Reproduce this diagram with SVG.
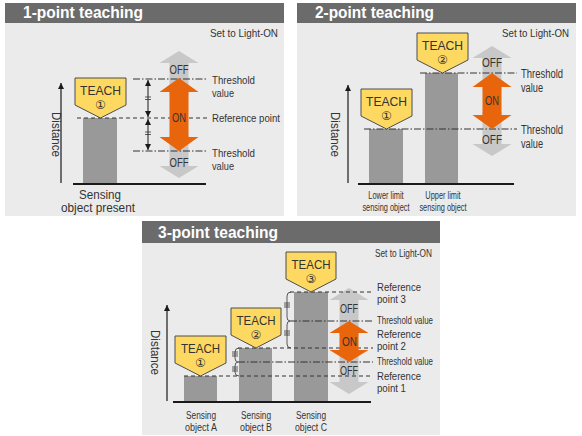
<svg xmlns="http://www.w3.org/2000/svg" width="582" height="436" viewBox="0 0 582 436">
<style>
.hdr{fill:#6b6b6b}
.pbg{fill:#ebebeb}
.bar{fill:#999999}
.teach{fill:#fdd962;stroke:#4d4d4d;stroke-width:1}
.orange{fill:#e8650c}
.grey{fill:#c8c8c8}
.ttl{font-family:"Liberation Sans",Arial,sans-serif;font-weight:bold;font-size:17px;fill:#ffffff}
.t{font-family:"Liberation Sans Narrow","Liberation Sans",Arial,sans-serif;fill:#333333}
.tc{font-family:"Liberation Sans Narrow","Liberation Sans",Arial,sans-serif;fill:#333333;text-anchor:middle}
.tt{font-family:"Liberation Sans Narrow","Liberation Sans",Arial,sans-serif;fill:#333333;text-anchor:middle;font-size:13px}
.num{font-family:"DejaVu Sans","Noto Sans CJK JP",sans-serif;fill:#333333;text-anchor:middle;font-size:12px}
.dash{stroke:#333333;stroke-width:1;stroke-dasharray:4 3;fill:none}
.dd{stroke:#333333;stroke-width:1;stroke-dasharray:7 2 1.5 2;fill:none}
.base{stroke:#1a1a1a;stroke-width:2}
.axis{stroke:#1a1a1a;stroke-width:1.2;marker-end:url(#ax)}
.dim{stroke:#1a1a1a;stroke-width:1;marker-start:url(#dm);marker-end:url(#dm)}
.thin{stroke:#333333;stroke-width:0.8;fill:none}
</style>
<defs>
<marker id="ax" viewBox="0 0 10 10" refX="10" refY="5" markerWidth="6" markerHeight="8" markerUnits="userSpaceOnUse" orient="auto"><path d="M0,0 L10,5 L0,10 Z" fill="#1a1a1a"/></marker>
<marker id="dm" viewBox="0 0 10 10" refX="10" refY="5" markerWidth="8" markerHeight="6" markerUnits="userSpaceOnUse" orient="auto-start-reverse"><path d="M0,0 L10,5 L0,10 Z" fill="#1a1a1a"/></marker>
</defs>
<rect width="582" height="436" fill="#ffffff"/>

<!-- Panel 1 -->
<g id="panel1">
<rect class="pbg" x="5" y="3" width="279" height="213"/>
<rect class="hdr" x="5" y="3" width="279" height="20"/>
<text class="ttl" x="23" y="18" textLength="120" lengthAdjust="spacingAndGlyphs">1-point teaching</text>
<text class="t" x="210" y="37" font-size="11" textLength="68" lengthAdjust="spacingAndGlyphs">Set to Light-ON</text>
</g>
<g id="p1-axis">
<line class="axis" x1="61" y1="183" x2="61" y2="83"/>
<text class="tc" font-size="12" transform="translate(52,134.5) rotate(90)" textLength="45" lengthAdjust="spacingAndGlyphs">Distance</text>
</g>
<g id="p1-bar"><rect class="bar" x="83" y="118" width="34" height="66"/></g>
<g id="p1-arrows">
<path class="grey" d="M179,51 L198.5,63 L188.5,63 L188.5,95 L169.5,95 L169.5,63 L159.5,63 Z"/>
<path class="grey" d="M169.5,135 L188.5,135 L188.5,166 L198.5,166 L179,178 L159.5,166 L169.5,166 Z"/>
</g>
<g id="p1-lines">
<line class="dash" x1="77" y1="118" x2="208" y2="118"/>
<line class="dd" x1="133" y1="79" x2="208" y2="79"/>
<line class="dd" x1="133" y1="151" x2="208" y2="151"/>
<line class="dim" x1="148" y1="80" x2="148" y2="117"/>
<line class="dim" x1="148" y1="119" x2="148" y2="150"/>
<path class="thin" d="M145,97 H151 M145,99.5 H151 M145,132 H151 M145,134.5 H151"/>
<line class="base" x1="73" y1="184" x2="206" y2="184"/>
</g>
<g id="p1-on">
<path class="orange" d="M179,78 L198.5,92 L188.5,92 L188.5,137 L198.5,137 L179,151 L159.5,137 L169.5,137 L169.5,92 L159.5,92 Z"/>
<text class="tc" x="179" y="74" font-size="12" textLength="19" lengthAdjust="spacingAndGlyphs">OFF</text>
<text class="tc" x="179" y="122" font-size="12" textLength="14" lengthAdjust="spacingAndGlyphs">ON</text>
<text class="tc" x="179" y="167" font-size="12" textLength="19" lengthAdjust="spacingAndGlyphs">OFF</text>
</g>
<g id="p1-teach">
<path class="teach" d="M75,78 H126 V105 L100.5,118 L75,105 Z"/>
<text class="tt" x="100.5" y="94.5" textLength="41" lengthAdjust="spacingAndGlyphs">TEACH</text>
<text class="num" x="100.5" y="108.5">①</text>
</g>
<g id="p1-labels">
<text class="t" x="212" y="83.5" font-size="11.5" textLength="43" lengthAdjust="spacingAndGlyphs">Threshold</text>
<text class="t" x="212" y="97" font-size="11.5" textLength="22" lengthAdjust="spacingAndGlyphs">value</text>
<text class="t" x="212" y="122" font-size="11.5" textLength="68" lengthAdjust="spacingAndGlyphs">Reference point</text>
<text class="t" x="212" y="156.5" font-size="11.5" textLength="43" lengthAdjust="spacingAndGlyphs">Threshold</text>
<text class="t" x="212" y="170" font-size="11.5" textLength="22" lengthAdjust="spacingAndGlyphs">value</text>
<text class="tc" x="100" y="198.5" font-size="12" textLength="42" lengthAdjust="spacingAndGlyphs">Sensing</text>
<text class="tc" x="98" y="212" font-size="12" textLength="74" lengthAdjust="spacingAndGlyphs">object present</text>
</g>

<!-- Panel 2 -->
<g id="panel2">
<rect class="pbg" x="297" y="3" width="279" height="213"/>
<rect class="hdr" x="297" y="3" width="279" height="20"/>
<text class="ttl" x="315" y="18" textLength="119" lengthAdjust="spacingAndGlyphs">2-point teaching</text>
<text class="t" x="502" y="37" font-size="11" textLength="67" lengthAdjust="spacingAndGlyphs">Set to Light-ON</text>
</g>
<g id="p2-axis">
<line class="axis" x1="348" y1="183" x2="348" y2="85"/>
<text class="tc" font-size="12" transform="translate(331,134.5) rotate(90)" textLength="45" lengthAdjust="spacingAndGlyphs">Distance</text>
</g>
<g id="p2-bars">
<rect class="bar" x="369" y="129" width="34" height="55"/>
<rect class="bar" x="425" y="73" width="33" height="111"/>
</g>
<g id="p2-arrows">
<path class="grey" d="M492,46 L511.5,58 L501.5,58 L501.5,90 L482.5,90 L482.5,58 L472.5,58 Z"/>
<path class="grey" d="M482.5,112 L501.5,112 L501.5,144 L511.5,144 L492,156 L472.5,144 L482.5,144 Z"/>
</g>
<g id="p2-lines">
<line class="dd" x1="420" y1="73" x2="517" y2="73"/>
<line class="dd" x1="364" y1="129" x2="517" y2="129"/>
<line class="base" x1="358" y1="184" x2="514" y2="184"/>
</g>
<g id="p2-on">
<path class="orange" d="M492,73 L511.5,87 L501.5,87 L501.5,115 L511.5,115 L492,129 L472.5,115 L482.5,115 L482.5,87 L472.5,87 Z"/>
<text class="tc" x="492" y="67" font-size="12" textLength="20" lengthAdjust="spacingAndGlyphs">OFF</text>
<text class="tc" x="492" y="105" font-size="12" textLength="14" lengthAdjust="spacingAndGlyphs">ON</text>
<text class="tc" x="492" y="144" font-size="12" textLength="20" lengthAdjust="spacingAndGlyphs">OFF</text>
</g>
<g id="p2-teach1">
<path class="teach" d="M361,89 H412 V116 L386.5,129 L361,116 Z"/>
<text class="tt" x="386.5" y="105.5" textLength="41" lengthAdjust="spacingAndGlyphs">TEACH</text>
<text class="num" x="386.5" y="119.5">①</text>
</g>
<g id="p2-teach2">
<path class="teach" d="M417,33 H468 V60 L442.5,73 L417,60 Z"/>
<text class="tt" x="442.5" y="49.5" textLength="41" lengthAdjust="spacingAndGlyphs">TEACH</text>
<text class="num" x="442.5" y="63.5">②</text>
</g>
<g id="p2-labels">
<text class="t" x="521" y="78" font-size="12" textLength="42" lengthAdjust="spacingAndGlyphs">Threshold</text>
<text class="t" x="521" y="92" font-size="12" textLength="22" lengthAdjust="spacingAndGlyphs">value</text>
<text class="t" x="521" y="134" font-size="12" textLength="42" lengthAdjust="spacingAndGlyphs">Threshold</text>
<text class="t" x="521" y="148" font-size="12" textLength="22" lengthAdjust="spacingAndGlyphs">value</text>
<g transform="translate(386,0) scale(0.74,1)">
<text class="tc" x="0" y="199.5" font-size="10">Lower limit</text>
<text class="tc" x="0" y="211" font-size="10">sensing object</text>
</g>
<g transform="translate(443,0) scale(0.74,1)">
<text class="tc" x="0" y="199.5" font-size="10">Upper limit</text>
<text class="tc" x="0" y="211" font-size="10">sensing object</text>
</g>
</g>

<!-- Panel 3 -->
<g id="panel3">
<rect class="pbg" x="142" y="221" width="298" height="214"/>
<rect class="hdr" x="142" y="221" width="298" height="22"/>
<text class="ttl" x="158" y="238" textLength="120" lengthAdjust="spacingAndGlyphs">3-point teaching</text>
<text class="t" x="375" y="257" font-size="10" textLength="57" lengthAdjust="spacingAndGlyphs">Set to Light-ON</text>
</g>
<g id="p3-axis">
<line class="axis" x1="167" y1="401" x2="167" y2="305"/>
<text class="tc" font-size="12" transform="translate(151,352.5) rotate(90)" textLength="45" lengthAdjust="spacingAndGlyphs">Distance</text>
</g>
<g id="p3-bars">
<rect class="bar" x="184" y="376" width="33" height="26"/>
<rect class="bar" x="239" y="348" width="33" height="54"/>
<rect class="bar" x="294" y="292" width="34" height="110"/>
</g>
<g id="p3-arrows">
<path class="grey" d="M349,288 L368.5,300 L358.5,300 L358.5,336 L339.5,336 L339.5,300 L329.5,300 Z"/>
<path class="grey" d="M339.5,348 L358.5,348 L358.5,382 L368.5,382 L349,394 L329.5,382 L339.5,382 Z"/>
</g>
<g id="p3-lines">
<line class="dash" x1="238" y1="348" x2="373" y2="348"/>
<line class="dash" x1="290" y1="292" x2="373" y2="292"/>
<line class="dash" x1="184" y1="376" x2="373" y2="376"/>
<line class="dd" x1="238" y1="362" x2="373" y2="362"/>
<line class="dd" x1="290" y1="321" x2="373" y2="321"/>
<path class="thin" d="M239,348 Q235,348 235,352 V358 Q235,362 238,362 Q235,362 235,366 V372 Q235,376 239,376"/>
<path class="thin" d="M232,352 H238 M232,354 H238 M232,356 H238 M232,367 H238 M232,369 H238 M232,371 H238"/>
<path class="thin" d="M291,292 Q287,292 287,296 V317 Q287,321 290,321 Q287,321 287,325 V344 Q287,348 291,348"/>
<path class="thin" d="M284,303 H290 M284,305 H290 M284,307 H290 M284,331 H290 M284,333 H290 M284,335 H290"/>
<line class="base" x1="173" y1="402" x2="371" y2="402"/>
</g>
<g id="p3-on">
<path class="orange" d="M349,321 L368.5,333 L358.5,333 L358.5,350 L368.5,350 L349,362 L329.5,350 L339.5,350 L339.5,333 L329.5,333 Z"/>
<text class="tc" x="349" y="313" font-size="12" textLength="18" lengthAdjust="spacingAndGlyphs">OFF</text>
<text class="tc" x="349.5" y="346" font-size="12" textLength="15" lengthAdjust="spacingAndGlyphs">ON</text>
<text class="tc" x="349" y="375" font-size="12" textLength="18" lengthAdjust="spacingAndGlyphs">OFF</text>
</g>
<g id="p3-teach1">
<path class="teach" d="M175,336 H226 V363 L200.5,376 L175,363 Z"/>
<text class="tt" x="200.5" y="352.5" textLength="39" lengthAdjust="spacingAndGlyphs">TEACH</text>
<text class="num" x="200.5" y="366.5">①</text>
</g>
<g id="p3-teach2">
<path class="teach" d="M231,308 H281 V335 L256,348 L231,335 Z"/>
<text class="tt" x="256" y="324.5" textLength="39" lengthAdjust="spacingAndGlyphs">TEACH</text>
<text class="num" x="256" y="338.5">②</text>
</g>
<g id="p3-teach3">
<path class="teach" d="M286,252 H336 V279 L311,292 L286,279 Z"/>
<text class="tt" x="311" y="268.5" textLength="39" lengthAdjust="spacingAndGlyphs">TEACH</text>
<text class="num" x="311" y="282.5">③</text>
</g>
<g id="p3-labels">
<text class="t" x="377" y="290.5" font-size="10.5" textLength="44" lengthAdjust="spacingAndGlyphs">Reference</text>
<text class="t" x="377" y="303" font-size="10.5" textLength="29" lengthAdjust="spacingAndGlyphs">point 3</text>
<text class="t" x="377" y="324" font-size="10.5" textLength="56" lengthAdjust="spacingAndGlyphs">Threshold value</text>
<text class="t" x="377" y="337.5" font-size="10.5" textLength="44" lengthAdjust="spacingAndGlyphs">Reference</text>
<text class="t" x="377" y="350" font-size="10.5" textLength="29" lengthAdjust="spacingAndGlyphs">point 2</text>
<text class="t" x="377" y="365" font-size="10.5" textLength="56" lengthAdjust="spacingAndGlyphs">Threshold value</text>
<text class="t" x="377" y="379.5" font-size="10.5" textLength="44" lengthAdjust="spacingAndGlyphs">Reference</text>
<text class="t" x="377" y="392" font-size="10.5" textLength="29" lengthAdjust="spacingAndGlyphs">point 1</text>
<text class="tc" x="201" y="419" font-size="10" textLength="30" lengthAdjust="spacingAndGlyphs">Sensing</text>
<text class="tc" x="201" y="430.5" font-size="10" textLength="32" lengthAdjust="spacingAndGlyphs">object A</text>
<text class="tc" x="256" y="419" font-size="10" textLength="30" lengthAdjust="spacingAndGlyphs">Sensing</text>
<text class="tc" x="256" y="430.5" font-size="10" textLength="32" lengthAdjust="spacingAndGlyphs">object B</text>
<text class="tc" x="311" y="419" font-size="10" textLength="30" lengthAdjust="spacingAndGlyphs">Sensing</text>
<text class="tc" x="311" y="430.5" font-size="10" textLength="32" lengthAdjust="spacingAndGlyphs">object C</text>
</g>
</svg>
